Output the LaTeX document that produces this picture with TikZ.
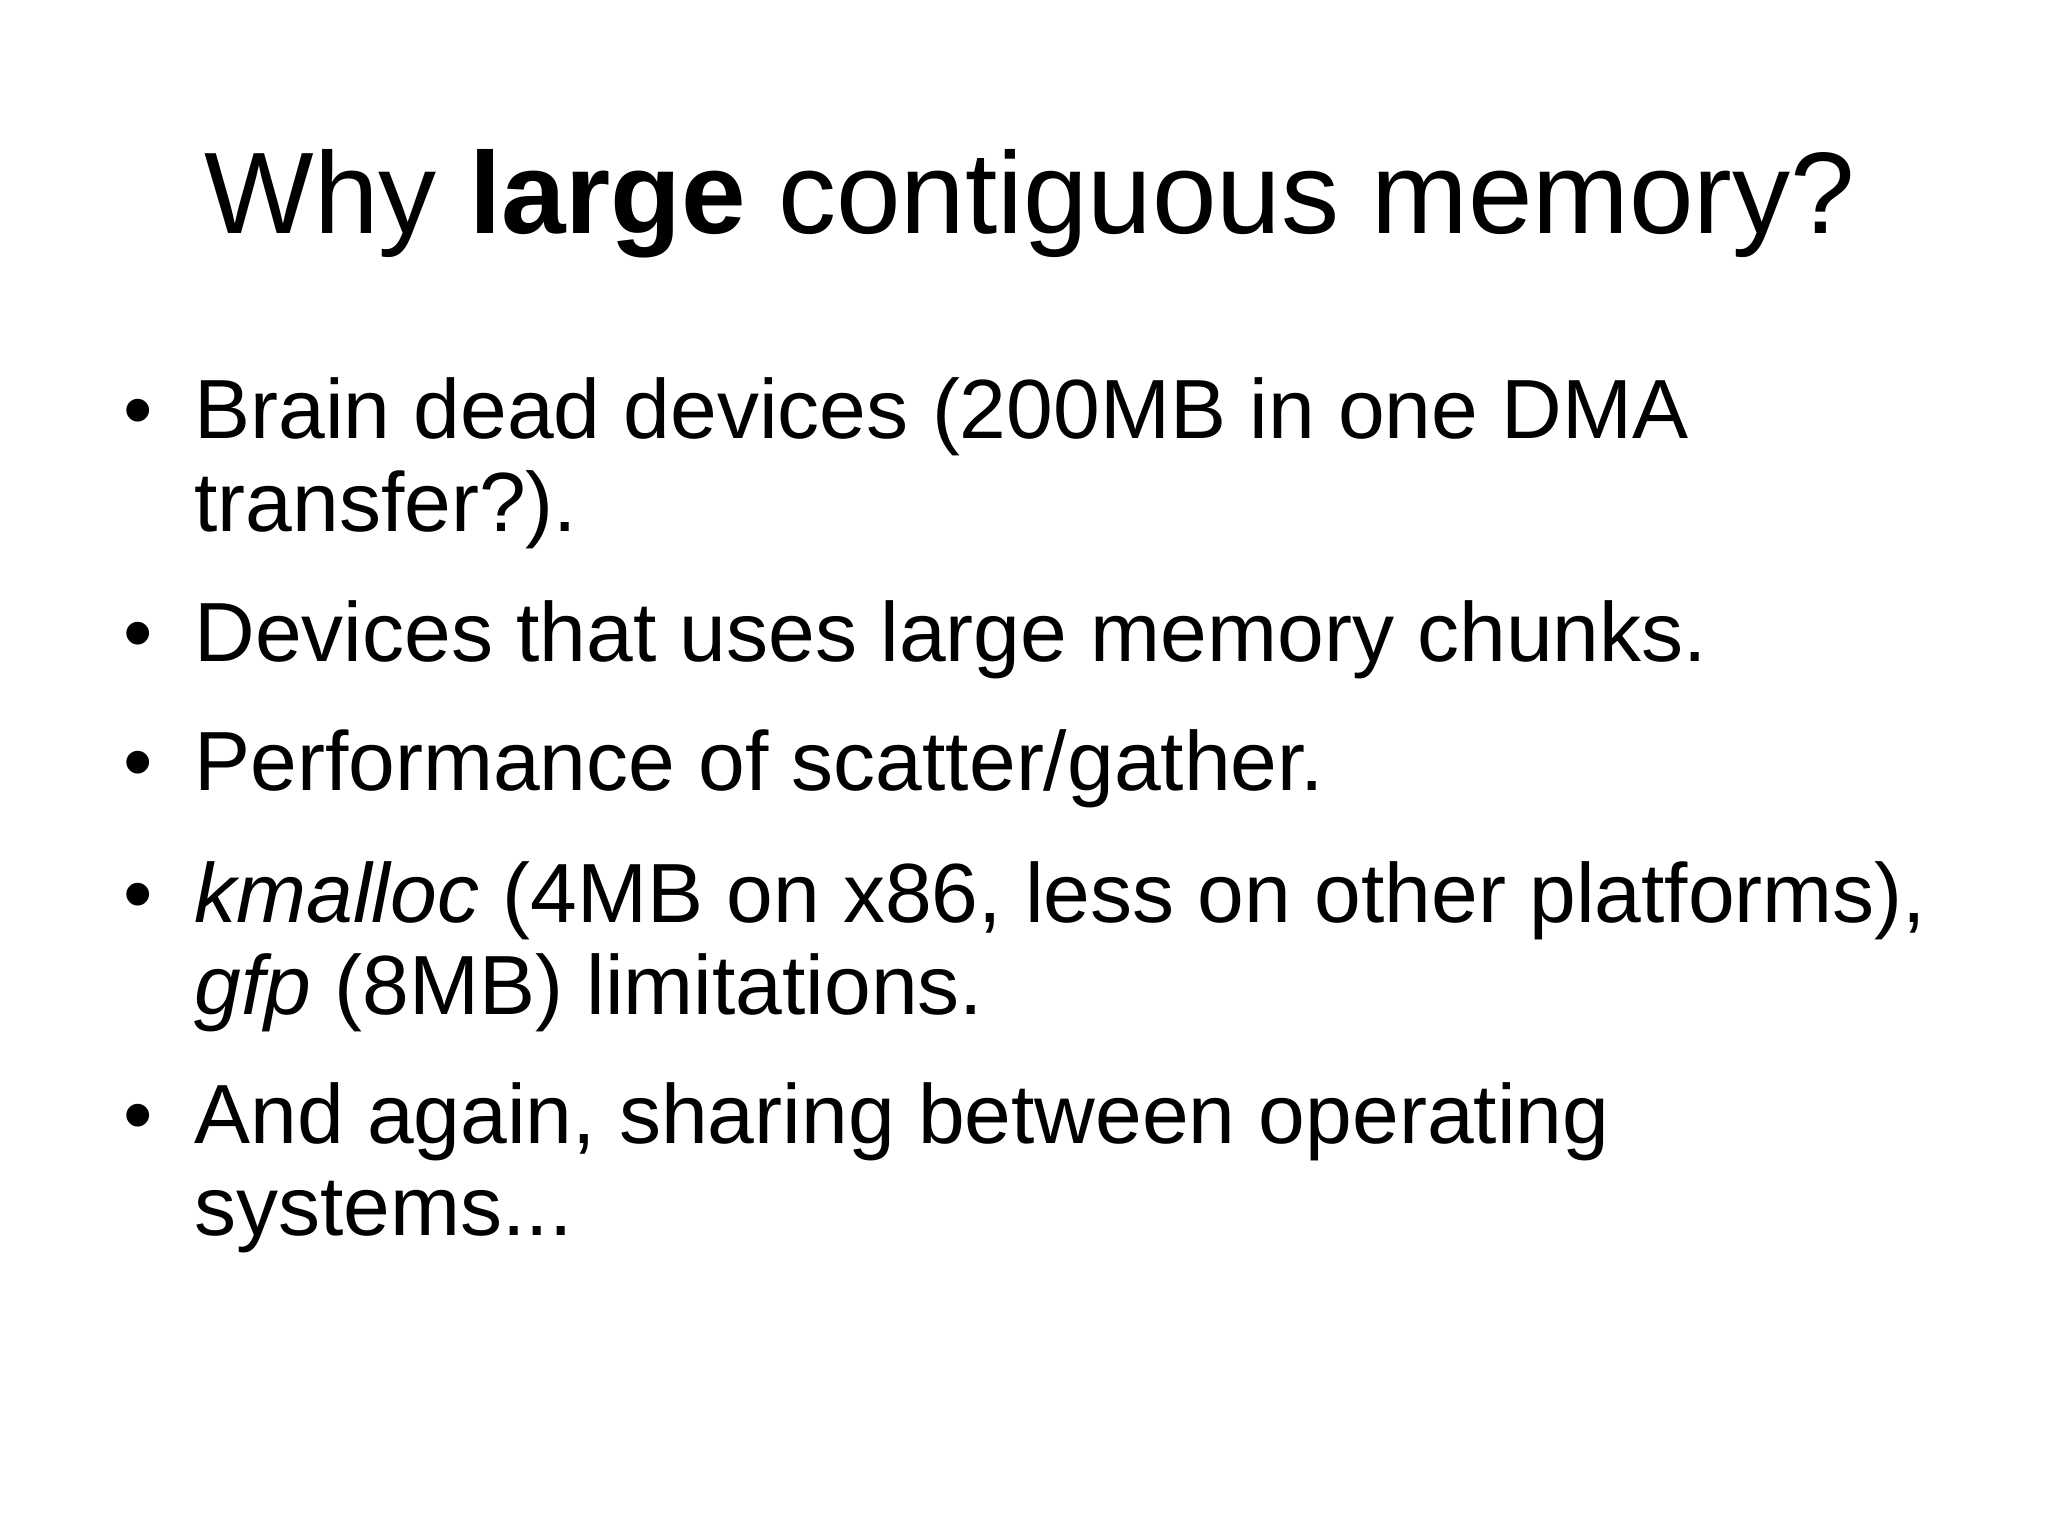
\documentclass[tikz,border=0pt]{standalone}
\usepackage{fontspec}
\setmainfont{Liberation Sans}
\begin{document}
\begin{tikzpicture}[x=0.5pt,y=-0.5pt,
  body/.style={anchor=base west,inner sep=0pt,font=\fontsize{42}{50}\selectfont},
  bul/.style={anchor=base,inner sep=0pt,font=\fontsize{42}{50}\selectfont}]
\useasboundingbox (0,0) rectangle (2048,1535);
\node[anchor=base,inner sep=0pt,font=\fontsize{58}{70}\selectfont] (title) at (1030,234) {Why \textbf{large} contiguous memory?};
\foreach \n/\y in {1/438,2/661,3/790,4/922,5/1143}{\node[bul] (b\n) at (138,\y) {•};}
\node[body] (t1) at (194,438) {Brain dead devices (200MB in one DMA};
\node[body] (t1b) at (194,531) {transfer?).};
\node[body] (t2) at (194,661) {Devices that uses large memory chunks.};
\node[body] (t3) at (194,790) {Performance of scatter/gather.};
\node[body] (t4) at (194,922) {\textit{kmalloc} (4MB on x86, less on other platforms),};
\node[body] (t4b) at (194,1014) {\textit{gfp} (8MB) limitations.};
\node[body] (t5) at (194,1143) {And again, sharing between operating};
\node[body] (t5b) at (194,1235) {systems...};
\end{tikzpicture}
\end{document}
